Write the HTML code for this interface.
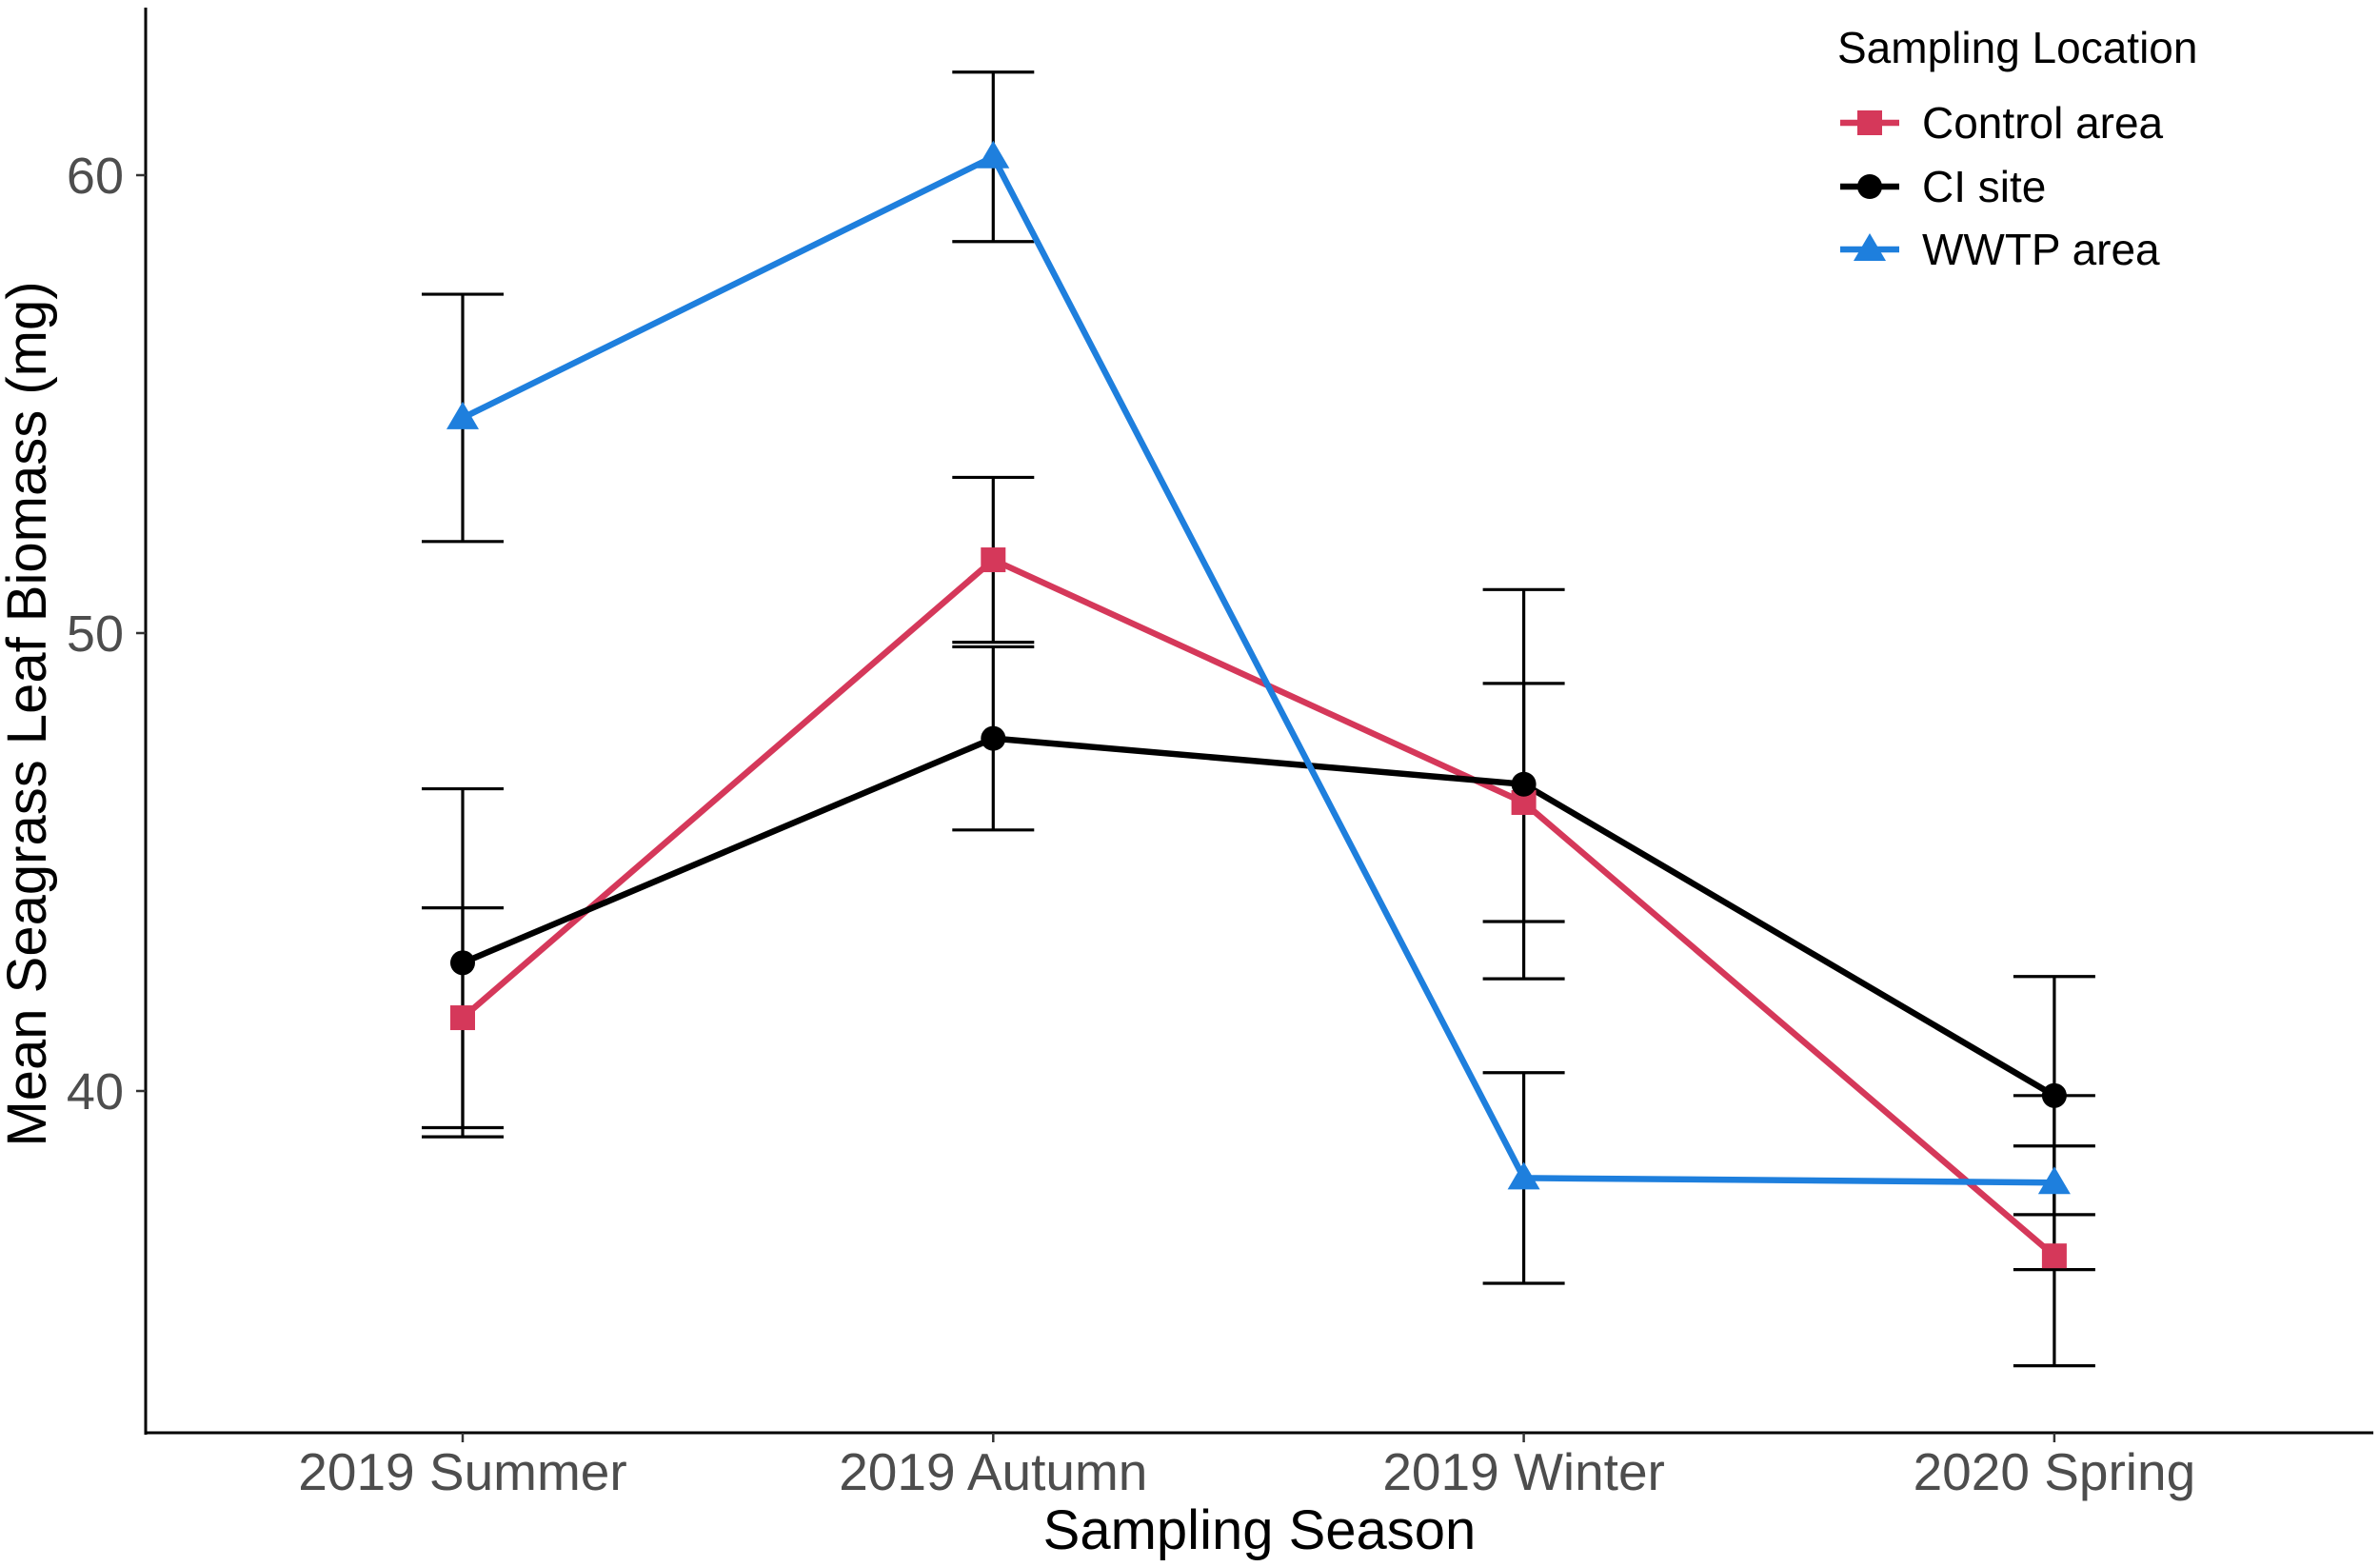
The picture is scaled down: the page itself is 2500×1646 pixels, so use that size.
<!DOCTYPE html>
<html><head><meta charset="utf-8"><style>
html,body{margin:0;padding:0;background:#fff;}
svg{display:block;font-family:"Liberation Sans",Arial,sans-serif;}
</style></head><body>
<svg id="chart" width="2500" height="1646" viewBox="0 0 2500 1646" xmlns="http://www.w3.org/2000/svg">
<rect width="2500" height="1646" fill="#fff"/>
<g id="axes"></g>
<g id="marks"></g>
<g id="legend"></g>
</svg>
<script>
const categories = ["2019 Summer","2019 Autumn","2019 Winter","2020 Spring"];
const seriesNames = ["Control area","CI site","WWTP area"];
const controlMean = [41.6, 51.6, 46.3, 36.4];
const controlErr = [2.4, 1.8, 2.6, 2.4];
const ciMean = [42.8, 47.7, 46.7, 39.9];
const ciErr = [3.8, 2.0, 4.25, 2.6];
const wwtpMean = [54.7, 60.4, 38.1, 38.0];
const wwtpErr = [2.7, 1.85, 2.3, 1.9];
const yTicks = [40, 50, 60];

const NS = "http://www.w3.org/2000/svg";
const X0 = 153, X1 = 2493, Y0 = 1505, Ytop = 8;
function xScale(i){ return 486 + i * 557.3; }
function yScale(v){ return 184 + (60 - v) * 48.1; }
function mk(tag, attrs, parent){ const e = document.createElementNS(NS, tag); for (const k in attrs) e.setAttribute(k, attrs[k]); parent.appendChild(e); return e; }

const axes = document.getElementById('axes');
const marks = document.getElementById('marks');
const legend = document.getElementById('legend');

let a = mk('line', {x1:X0, y1:Ytop, x2:X0, y2:Y0+2, stroke:'#000', 'stroke-width':3}, axes);


a = mk('line', {x1:X0-1, y1:Y0, x2:X1, y2:Y0, stroke:'#000', 'stroke-width':3}, axes);



yTicks.forEach(v => {
  const y = yScale(v);
  const t = mk('line', {x1:X0-10, y1:y, x2:X0, y2:y, stroke:'#333', 'stroke-width':2.5}, axes);
  
  
  const l = mk('text', {x:130, y:y+19, 'text-anchor':'end', 'font-size':54, fill:'#4d4d4d'}, axes);
  l.textContent = v;
  
  
});
categories.forEach((c, i) => {
  const x = xScale(i);
  const t = mk('line', {x1:x, y1:Y0, x2:x, y2:Y0+10, stroke:'#333', 'stroke-width':2.5}, axes);
  
  
  const l = mk('text', {x:x, y:1565, 'text-anchor':'middle', 'font-size':55, fill:'#4d4d4d'}, axes);
  l.textContent = c;
  
  
});
let tt = mk('text', {x:1323, y:1627, 'text-anchor':'middle', 'font-size':58, fill:'#000'}, axes);
tt.textContent = 'Sampling Season';


tt = mk('text', {x:0, y:0, 'text-anchor':'middle', 'font-size':58, fill:'#000', transform:'translate(48,750) rotate(-90)'}, axes);
tt.textContent = 'Mean Seagrass Leaf Biomass (mg)';



const colors = ['#d5385a', '#000000', '#1e7fdd'];
const means = [controlMean, ciMean, wwtpMean];
const errs = [controlErr, ciErr, wwtpErr];
const shapes = ['square', 'circle', 'triangle'];

function marker(shape, x, y, color, parent, s){
  s = s || 1;
  if (shape === 'square') return mk('rect', {x:x-13*s, y:y-13*s, width:26*s, height:26*s, fill:color}, parent);
  if (shape === 'circle') return mk('circle', {cx:x, cy:y, r:13*s, fill:color}, parent);
  return mk('polygon', {points:`${x},${y-17*s} ${x+17*s},${y+12*s} ${x-17*s},${y+12*s}`, fill:color}, parent);
}

means.forEach((m, si) => {
  m.forEach((v, i) => {
    const x = xScale(i), hi = yScale(v + errs[si][i]), lo = yScale(v - errs[si][i]);
    const g = mk('g', {stroke:'#000', 'stroke-width':3.2}, marks);
    
    
    mk('line', {x1:x, y1:hi, x2:x, y2:lo}, g);
    mk('line', {x1:x-43, y1:hi, x2:x+43, y2:hi}, g);
    mk('line', {x1:x-43, y1:lo, x2:x+43, y2:lo}, g);
  });
});
means.forEach((m, si) => {
  const pts = m.map((v, i) => xScale(i) + ',' + yScale(v)).join(' ');
  const pl = mk('polyline', {points:pts, fill:'none', stroke:colors[si], 'stroke-width':6.5, 'stroke-linejoin':'round'}, marks);
  
  
});
means.forEach((m, si) => {
  m.forEach((v, i) => {
    const p = marker(shapes[si], xScale(i), yScale(v), colors[si], marks);
    
    
  });
});

tt = mk('text', {x:1930, y:66, 'font-size':46, fill:'#000'}, legend);
tt.textContent = 'Sampling Location';


const ly = [129, 196, 262];
seriesNames.forEach((n, si) => {
  const g = mk('g', {}, legend);
  
  
  mk('line', {x1:1933, y1:ly[si], x2:1995, y2:ly[si], stroke:colors[si], 'stroke-width':6.5}, g);
  marker(shapes[si], 1964, ly[si], colors[si], g);
  const t = mk('text', {x:2019, y:ly[si]+16, 'font-size':46, fill:'#000'}, g);
  t.textContent = n;
});
</script>
</body></html>
